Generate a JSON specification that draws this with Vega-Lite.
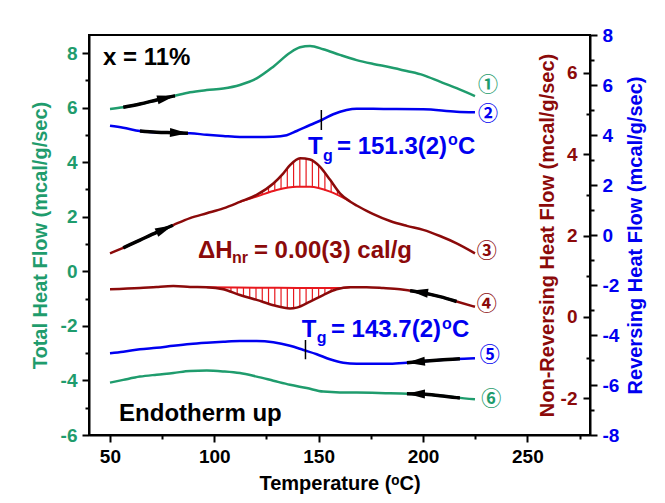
{
  "$schema": "https://vega.github.io/schema/vega-lite/v6.json",
  "width": 501,
  "height": 400,
  "autosize": "none",
  "padding": {"left": 89, "top": 35, "right": 75, "bottom": 68},
  "background": "white",
  "config": {
    "view": {"stroke": "black", "strokeWidth": 2},
    "font": "Liberation Sans"
  },
  "datasets": {
    "tot": [
      {"c": 1, "T": 50.06, "v": 5.95}, {"c": 1, "T": 56.4, "v": 6.01}, {"c": 1, "T": 64.4, "v": 6.13}, {"c": 1, "T": 72.4, "v": 6.28},
      {"c": 1, "T": 80.4, "v": 6.42}, {"c": 1, "T": 88.4, "v": 6.56}, {"c": 1, "T": 96.4, "v": 6.64}, {"c": 1, "T": 104.3, "v": 6.70},
      {"c": 1, "T": 112.3, "v": 6.83}, {"c": 1, "T": 120.3, "v": 7.07}, {"c": 1, "T": 128.3, "v": 7.50}, {"c": 1, "T": 136.3, "v": 8.01},
      {"c": 1, "T": 141.1, "v": 8.21}, {"c": 1, "T": 145.9, "v": 8.26}, {"c": 1, "T": 152.2, "v": 8.14}, {"c": 1, "T": 160.2, "v": 7.93},
      {"c": 1, "T": 168.2, "v": 7.74}, {"c": 1, "T": 176.2, "v": 7.60}, {"c": 1, "T": 184.2, "v": 7.48}, {"c": 1, "T": 192.2, "v": 7.34},
      {"c": 1, "T": 200.1, "v": 7.19}, {"c": 1, "T": 208.1, "v": 6.95}, {"c": 1, "T": 216.1, "v": 6.71}, {"c": 1, "T": 224.9, "v": 6.42},
      {"c": 6, "T": 50.06, "v": -4.08}, {"c": 6, "T": 56.4, "v": -3.98}, {"c": 6, "T": 64.4, "v": -3.86}, {"c": 6, "T": 72.4, "v": -3.79},
      {"c": 6, "T": 80.4, "v": -3.73}, {"c": 6, "T": 88.4, "v": -3.65}, {"c": 6, "T": 96.4, "v": -3.64}, {"c": 6, "T": 104.3, "v": -3.67},
      {"c": 6, "T": 112.3, "v": -3.73}, {"c": 6, "T": 120.3, "v": -3.86}, {"c": 6, "T": 128.3, "v": -4.01}, {"c": 6, "T": 136.3, "v": -4.16},
      {"c": 6, "T": 144.3, "v": -4.28}, {"c": 6, "T": 152.2, "v": -4.41}, {"c": 6, "T": 160.2, "v": -4.44}, {"c": 6, "T": 168.2, "v": -4.44},
      {"c": 6, "T": 184.2, "v": -4.47}, {"c": 6, "T": 200.1, "v": -4.50}, {"c": 6, "T": 208.1, "v": -4.56}, {"c": 6, "T": 216.1, "v": -4.63},
      {"c": 6, "T": 224.9, "v": -4.69}
    ],
    "rev": [
      {"c": 2, "T": 50.06, "v": 4.37}, {"c": 2, "T": 56.4, "v": 4.29}, {"c": 2, "T": 64.4, "v": 4.16}, {"c": 2, "T": 72.4, "v": 4.11},
      {"c": 2, "T": 80.4, "v": 4.09}, {"c": 2, "T": 88.4, "v": 4.07}, {"c": 2, "T": 96.4, "v": 4.01}, {"c": 2, "T": 104.3, "v": 3.96},
      {"c": 2, "T": 112.3, "v": 3.92}, {"c": 2, "T": 120.3, "v": 3.92}, {"c": 2, "T": 128.3, "v": 3.93}, {"c": 2, "T": 134.7, "v": 3.99},
      {"c": 2, "T": 139.5, "v": 4.16}, {"c": 2, "T": 145.9, "v": 4.40}, {"c": 2, "T": 151.5, "v": 4.60}, {"c": 2, "T": 157.0, "v": 4.83},
      {"c": 2, "T": 163.4, "v": 5.00}, {"c": 2, "T": 168.2, "v": 5.05}, {"c": 2, "T": 176.2, "v": 5.05}, {"c": 2, "T": 184.2, "v": 5.04},
      {"c": 2, "T": 200.1, "v": 5.03}, {"c": 2, "T": 216.1, "v": 4.93}, {"c": 2, "T": 224.9, "v": 4.91},
      {"c": 5, "T": 50.06, "v": -4.73}, {"c": 5, "T": 56.4, "v": -4.67}, {"c": 5, "T": 64.4, "v": -4.57}, {"c": 5, "T": 72.4, "v": -4.51},
      {"c": 5, "T": 80.4, "v": -4.43}, {"c": 5, "T": 88.4, "v": -4.36}, {"c": 5, "T": 96.4, "v": -4.31}, {"c": 5, "T": 104.3, "v": -4.27},
      {"c": 5, "T": 112.3, "v": -4.24}, {"c": 5, "T": 120.3, "v": -4.24}, {"c": 5, "T": 128.3, "v": -4.29}, {"c": 5, "T": 136.3, "v": -4.43},
      {"c": 5, "T": 142.7, "v": -4.60}, {"c": 5, "T": 149.1, "v": -4.77}, {"c": 5, "T": 155.4, "v": -4.97}, {"c": 5, "T": 161.8, "v": -5.11},
      {"c": 5, "T": 168.2, "v": -5.15}, {"c": 5, "T": 176.2, "v": -5.15}, {"c": 5, "T": 184.2, "v": -5.15}, {"c": 5, "T": 192.2, "v": -5.11},
      {"c": 5, "T": 200.1, "v": -5.05}, {"c": 5, "T": 208.1, "v": -5.00}, {"c": 5, "T": 216.1, "v": -4.96}, {"c": 5, "T": 224.9, "v": -4.93}
    ],
    "nr": [
      {"c": 3, "T": 50.06, "v": 1.565}, {"c": 3, "T": 56.4, "v": 1.70}, {"c": 3, "T": 64.4, "v": 1.89}, {"c": 3, "T": 72.4, "v": 2.08},
      {"c": 3, "T": 80.4, "v": 2.26}, {"c": 3, "T": 88.4, "v": 2.43}, {"c": 3, "T": 96.4, "v": 2.55}, {"c": 3, "T": 104.3, "v": 2.67},
      {"c": 3, "T": 112.3, "v": 2.83}, {"c": 3, "T": 120.3, "v": 3.0}, {"c": 3, "T": 128.3, "v": 3.28}, {"c": 3, "T": 133.1, "v": 3.53},
      {"c": 3, "T": 136.3, "v": 3.73}, {"c": 3, "T": 141.1, "v": 3.90}, {"c": 3, "T": 145.9, "v": 3.87}, {"c": 3, "T": 150.7, "v": 3.69},
      {"c": 3, "T": 155.5, "v": 3.37}, {"c": 3, "T": 160.2, "v": 3.04}, {"c": 3, "T": 165.0, "v": 2.84}, {"c": 3, "T": 168.2, "v": 2.74},
      {"c": 3, "T": 173.0, "v": 2.61}, {"c": 3, "T": 176.2, "v": 2.53}, {"c": 3, "T": 184.2, "v": 2.36}, {"c": 3, "T": 192.2, "v": 2.24},
      {"c": 3, "T": 200.1, "v": 2.14}, {"c": 3, "T": 208.1, "v": 1.99}, {"c": 3, "T": 216.1, "v": 1.81}, {"c": 3, "T": 224.9, "v": 1.565},
      {"c": 4, "T": 50.06, "v": 0.68}, {"c": 4, "T": 64.4, "v": 0.71}, {"c": 4, "T": 72.4, "v": 0.74}, {"c": 4, "T": 80.4, "v": 0.76},
      {"c": 4, "T": 88.4, "v": 0.74}, {"c": 4, "T": 96.4, "v": 0.73}, {"c": 4, "T": 104.3, "v": 0.68}, {"c": 4, "T": 112.3, "v": 0.54},
      {"c": 4, "T": 120.3, "v": 0.42}, {"c": 4, "T": 128.3, "v": 0.29}, {"c": 4, "T": 136.3, "v": 0.21}, {"c": 4, "T": 139.5, "v": 0.23},
      {"c": 4, "T": 145.9, "v": 0.38}, {"c": 4, "T": 152.2, "v": 0.54}, {"c": 4, "T": 158.6, "v": 0.68}, {"c": 4, "T": 165.0, "v": 0.73},
      {"c": 4, "T": 173.0, "v": 0.73}, {"c": 4, "T": 181.0, "v": 0.71}, {"c": 4, "T": 189.0, "v": 0.68}, {"c": 4, "T": 197.0, "v": 0.62},
      {"c": 4, "T": 208.1, "v": 0.50}, {"c": 4, "T": 216.1, "v": 0.38}, {"c": 4, "T": 224.9, "v": 0.25}
    ],
    "nrbase": [
      {"c": 3, "T": 112.3, "v": 2.83}, {"c": 3, "T": 120.3, "v": 2.96}, {"c": 3, "T": 129.9, "v": 3.12}, {"c": 3, "T": 139.5, "v": 3.20},
      {"c": 3, "T": 145.9, "v": 3.20}, {"c": 3, "T": 155.5, "v": 3.08}, {"c": 3, "T": 165.0, "v": 2.84},
      {"c": 4, "T": 96.4, "v": 0.73}, {"c": 4, "T": 120.0, "v": 0.72}, {"c": 4, "T": 140.0, "v": 0.715}, {"c": 4, "T": 160.0, "v": 0.71},
      {"c": 4, "T": 165.0, "v": 0.73}
    ],
    "hatch": [
      {"c": 3, "T": 120, "v": 2.99, "vb": 2.96}, {"c": 3, "T": 123, "v": 3.09, "vb": 3.01}, {"c": 3, "T": 126, "v": 3.19, "vb": 3.06},
      {"c": 3, "T": 129, "v": 3.31, "vb": 3.11}, {"c": 3, "T": 132, "v": 3.47, "vb": 3.14}, {"c": 3, "T": 135, "v": 3.65, "vb": 3.17},
      {"c": 3, "T": 138, "v": 3.80, "vb": 3.19}, {"c": 3, "T": 141, "v": 3.90, "vb": 3.20}, {"c": 3, "T": 144, "v": 3.89, "vb": 3.20},
      {"c": 3, "T": 147, "v": 3.83, "vb": 3.19}, {"c": 3, "T": 150, "v": 3.72, "vb": 3.15}, {"c": 3, "T": 153, "v": 3.54, "vb": 3.11},
      {"c": 3, "T": 156, "v": 3.34, "vb": 3.07}, {"c": 3, "T": 159, "v": 3.12, "vb": 3.01}, {"c": 3, "T": 162, "v": 2.96, "vb": 2.92},
      {"c": 4, "T": 105, "v": 0.668, "vb": 0.725}, {"c": 4, "T": 108, "v": 0.615, "vb": 0.724}, {"c": 4, "T": 111, "v": 0.56, "vb": 0.723},
      {"c": 4, "T": 114, "v": 0.515, "vb": 0.722}, {"c": 4, "T": 117, "v": 0.47, "vb": 0.721}, {"c": 4, "T": 120, "v": 0.425, "vb": 0.72},
      {"c": 4, "T": 123, "v": 0.376, "vb": 0.719}, {"c": 4, "T": 126, "v": 0.33, "vb": 0.718}, {"c": 4, "T": 129, "v": 0.283, "vb": 0.717},
      {"c": 4, "T": 132, "v": 0.253, "vb": 0.716}, {"c": 4, "T": 135, "v": 0.223, "vb": 0.716}, {"c": 4, "T": 138, "v": 0.22, "vb": 0.715},
      {"c": 4, "T": 141, "v": 0.27, "vb": 0.714}, {"c": 4, "T": 144, "v": 0.335, "vb": 0.713}, {"c": 4, "T": 147, "v": 0.41, "vb": 0.712},
      {"c": 4, "T": 150, "v": 0.484, "vb": 0.712}, {"c": 4, "T": 153, "v": 0.557, "vb": 0.711}, {"c": 4, "T": 156, "v": 0.623, "vb": 0.71},
      {"c": 4, "T": 159, "v": 0.683, "vb": 0.71}
    ],
    "shaft": [
      {"c": 1, "T": 56.4, "v": 6.01}, {"c": 1, "T": 64.4, "v": 6.13}, {"c": 1, "T": 72.4, "v": 6.28}, {"c": 1, "T": 80.4, "v": 6.42}, {"c": 1, "T": 81.2, "v": 6.43},
      {"c": 2, "T": 64.4, "v": 4.16}, {"c": 2, "T": 72.4, "v": 4.11}, {"c": 2, "T": 80.4, "v": 4.09}, {"c": 2, "T": 87.4, "v": 4.07},
      {"c": 3, "T": 56.4, "v": 1.70}, {"c": 3, "T": 64.4, "v": 1.89}, {"c": 3, "T": 72.4, "v": 2.08}, {"c": 3, "T": 80.2, "v": 2.255},
      {"c": 4, "T": 193.8, "v": 0.644}, {"c": 4, "T": 197.0, "v": 0.62}, {"c": 4, "T": 208.1, "v": 0.50}, {"c": 4, "T": 216.1, "v": 0.38},
      {"c": 5, "T": 192.3, "v": -5.11}, {"c": 5, "T": 200.1, "v": -5.05}, {"c": 5, "T": 208.1, "v": -5.00}, {"c": 5, "T": 216.1, "v": -4.96}, {"c": 5, "T": 217.7, "v": -4.95},
      {"c": 6, "T": 192.3, "v": -4.485}, {"c": 6, "T": 200.1, "v": -4.50}, {"c": 6, "T": 208.1, "v": -4.56}, {"c": 6, "T": 216.1, "v": -4.63}, {"c": 6, "T": 217.7, "v": -4.64}
    ],
    "head": [
      {"c": 1, "T": 81.2, "v": 6.43}, {"c": 2, "T": 87.4, "v": 4.07}, {"c": 3, "T": 80.2, "v": 2.255},
      {"c": 4, "T": 193.8, "v": 0.644}, {"c": 5, "T": 192.3, "v": -5.11}, {"c": 6, "T": 192.3, "v": -4.485}
    ],
    "num": [
      {"c": 1, "T": 231.1, "v": 6.80, "label": "①"}, {"c": 6, "T": 232.7, "v": -4.71, "label": "⑥"},
      {"c": 2, "T": 231.1, "v": 4.82, "label": "②"}, {"c": 5, "T": 232.0, "v": -4.84, "label": "⑤"},
      {"c": 3, "T": 230.5, "v": 1.60, "label": "③"}, {"c": 4, "T": 230.5, "v": 0.29, "label": "④"}
    ]
  },
  "resolve": {"scale": {"y": "independent"}},
  "layer": [
    {
      "data": {"name": "tot"},
      "encoding": {
        "x": {"field": "T", "type": "quantitative", "scale": {"domain": [40, 280], "nice": false, "zero": false},
          "axis": {"values": [50, 75, 100, 125, 150, 175, 200, 225, 250, 275],
            "labelExpr": "datum.value % 50 === 0 ? '' + datum.value : ''",
            "tickSize": {"condition": {"test": "datum.value % 50 !== 0", "value": 4}, "value": 7},
            "labelOverlap": false, "labelFlush": false,
            "title": "Temperature (ᵒC)", "labelFont": "Liberation Sans", "labelFontSize": 19, "labelFontWeight": "bold", "labelColor": "black", "labelPadding": 5,
            "titleFont": "Liberation Sans", "titleFontSize": 20, "titleFontWeight": "bold", "titleColor": "black", "titlePadding": 7,
            "domainColor": "black", "domainWidth": 2, "tickColor": "black", "tickWidth": 2, "grid": false}},
        "y": {"field": "v", "type": "quantitative", "scale": {"domain": [-6, 8.66], "nice": false, "zero": false},
          "axis": {"orient": "left", "values": [-6, -5, -4, -3, -2, -1, 0, 1, 2, 3, 4, 5, 6, 7, 8],
            "labelExpr": "datum.value % 2 === 0 ? '' + datum.value : ''",
            "tickSize": {"condition": {"test": "datum.value % 2 !== 0", "value": 4}, "value": 7},
            "labelOverlap": false, "labelFlush": false,
            "title": "Total Heat Flow (mcal/g/sec)", "labelFont": "Liberation Sans", "labelFontSize": 19, "labelFontWeight": "bold", "labelColor": "#1f9c6d", "labelPadding": 5,
            "titleFont": "Liberation Sans", "titleFontSize": 20, "titleFontWeight": "bold", "titleColor": "#1f9c6d", "titlePadding": 10,
            "domainColor": "black", "domainWidth": 2, "tickColor": "black", "tickWidth": 2, "grid": false}}
      },
      "layer": [
        {"mark": {"type": "line", "color": "#1f9c6d", "strokeWidth": 2.5, "interpolate": "monotone"},
         "encoding": {"detail": {"field": "c"}}},
        {"data": {"name": "shaft"}, "transform": [{"filter": "datum.c === 1 || datum.c === 6"}],
         "mark": {"type": "line", "color": "black", "strokeWidth": 3.5, "interpolate": "monotone"},
         "encoding": {"detail": {"field": "c"}}},
        {"data": {"name": "head"}, "transform": [{"filter": "datum.c === 1"}],
         "mark": {"type": "point", "shape": "M0,0L-2,-0.5L-2,0.5Z", "size": 324, "filled": true, "color": "black", "opacity": 1, "angle": 347}},
        {"data": {"name": "head"}, "transform": [{"filter": "datum.c === 6"}],
         "mark": {"type": "point", "shape": "M0,0L-2,-0.5L-2,0.5Z", "size": 324, "filled": true, "color": "black", "opacity": 1, "angle": 181}},
        {"data": {"name": "num"}, "transform": [{"filter": "datum.c === 1 || datum.c === 6"}],
         "mark": {"type": "text", "font": "Noto Sans CJK SC", "fontSize": 20, "fontWeight": "bold", "color": "#1f9c6d", "align": "center", "baseline": "middle"},
         "encoding": {"text": {"field": "label"}}},
        {"data": {"values": [{"T": 46.7, "v": 7.56, "text": "x = 11%"}, {"T": 54.4, "v": -5.47, "text": "Endotherm up"}]},
         "mark": {"type": "text", "font": "Liberation Sans", "fontSize": 24, "fontWeight": "bold", "color": "black", "align": "left", "baseline": "alphabetic"},
         "encoding": {"text": {"field": "text"}}}
      ]
    },
    {
      "data": {"name": "rev"},
      "encoding": {
        "x": {"field": "T", "type": "quantitative", "scale": {"domain": [40, 280], "nice": false, "zero": false},
          "axis": {"values": [50, 75, 100, 125, 150, 175, 200, 225, 250, 275],
            "labelExpr": "datum.value % 50 === 0 ? '' + datum.value : ''",
            "tickSize": {"condition": {"test": "datum.value % 50 !== 0", "value": 4}, "value": 7},
            "labelOverlap": false, "labelFlush": false,
            "title": "Temperature (ᵒC)", "labelFont": "Liberation Sans", "labelFontSize": 19, "labelFontWeight": "bold", "labelColor": "black", "labelPadding": 5,
            "titleFont": "Liberation Sans", "titleFontSize": 20, "titleFontWeight": "bold", "titleColor": "black", "titlePadding": 7,
            "domainColor": "black", "domainWidth": 2, "tickColor": "black", "tickWidth": 2, "grid": false}},
        "y": {"field": "v", "type": "quantitative", "scale": {"domain": [-8, 8], "nice": false, "zero": false},
          "axis": {"orient": "right", "values": [-8, -7, -6, -5, -4, -3, -2, -1, 0, 1, 2, 3, 4, 5, 6, 7, 8],
            "labelExpr": "datum.value % 2 === 0 ? '' + datum.value : ''",
            "tickSize": {"condition": {"test": "datum.value % 2 !== 0", "value": 4}, "value": 7},
            "labelOverlap": false, "labelFlush": false,
            "title": "Reversing Heat Flow (mcal/g/sec)", "titleAngle": 270, "labelFont": "Liberation Sans", "labelFontSize": 19, "labelFontWeight": "bold", "labelColor": "#0000f0", "labelPadding": 5,
            "titleFont": "Liberation Sans", "titleFontSize": 20, "titleFontWeight": "bold", "titleColor": "#0000f0", "titlePadding": 27,
            "domainColor": "black", "domainWidth": 2, "tickColor": "black", "tickWidth": 2, "grid": false}}
      },
      "layer": [
        {"mark": {"type": "line", "color": "#0000f0", "strokeWidth": 2.5, "interpolate": "monotone"},
         "encoding": {"detail": {"field": "c"}}},
        {"data": {"name": "shaft"}, "transform": [{"filter": "datum.c === 2 || datum.c === 5"}],
         "mark": {"type": "line", "color": "black", "strokeWidth": 3.5, "interpolate": "monotone"},
         "encoding": {"detail": {"field": "c"}}},
        {"data": {"name": "head"}, "transform": [{"filter": "datum.c === 2"}],
         "mark": {"type": "point", "shape": "M0,0L-2,-0.5L-2,0.5Z", "size": 324, "filled": true, "color": "black", "opacity": 1, "angle": 2}},
        {"data": {"name": "head"}, "transform": [{"filter": "datum.c === 5"}],
         "mark": {"type": "point", "shape": "M0,0L-2,-0.5L-2,0.5Z", "size": 324, "filled": true, "color": "black", "opacity": 1, "angle": 175}},
        {"data": {"values": [{"T": 151.3, "v": 4.2, "v2": 5.0}, {"T": 143.7, "v": -4.2, "v2": -4.97}]},
         "mark": {"type": "rule", "color": "black", "strokeWidth": 1.5},
         "encoding": {"y2": {"field": "v2"}}},
        {"data": {"name": "num"}, "transform": [{"filter": "datum.c === 2 || datum.c === 5"}],
         "mark": {"type": "text", "font": "Noto Sans CJK SC", "fontSize": 20, "fontWeight": "bold", "color": "#0000f0", "align": "center", "baseline": "middle"},
         "encoding": {"text": {"field": "label"}}},
        {"data": {"values": [
            {"T": 144.9, "v": 3.24, "text": "T"}, {"T": 158.8, "v": 3.24, "text": "= 151.3(2)"}, {"T": 216.8, "v": 3.24, "text": "C"},
            {"T": 141.9, "v": -4.07, "text": "T"}, {"T": 155.9, "v": -4.07, "text": "= 143.7(2)"}, {"T": 213.9, "v": -4.07, "text": "C"}]},
         "mark": {"type": "text", "font": "Liberation Sans", "fontSize": 24, "fontWeight": "bold", "color": "#0000f0", "align": "left", "baseline": "alphabetic"},
         "encoding": {"text": {"field": "text"}}},
        {"data": {"values": [
            {"T": 152.1, "v": 2.96, "text": "g"}, {"T": 212.0, "v": 3.6, "text": "o"},
            {"T": 149.1, "v": -4.32, "text": "g"}, {"T": 209.1, "v": -3.76, "text": "o"}]},
         "mark": {"type": "text", "font": "Liberation Sans", "fontSize": 16, "fontWeight": "bold", "color": "#0000f0", "align": "left", "baseline": "alphabetic"},
         "encoding": {"text": {"field": "text"}}}
      ]
    },
    {
      "data": {"name": "nr"},
      "encoding": {
        "x": {"field": "T", "type": "quantitative", "scale": {"domain": [40, 280], "nice": false, "zero": false},
          "axis": {"values": [50, 75, 100, 125, 150, 175, 200, 225, 250, 275],
            "labelExpr": "datum.value % 50 === 0 ? '' + datum.value : ''",
            "tickSize": {"condition": {"test": "datum.value % 50 !== 0", "value": 4}, "value": 7},
            "labelOverlap": false, "labelFlush": false,
            "title": "Temperature (ᵒC)", "labelFont": "Liberation Sans", "labelFontSize": 19, "labelFontWeight": "bold", "labelColor": "black", "labelPadding": 5,
            "titleFont": "Liberation Sans", "titleFontSize": 20, "titleFontWeight": "bold", "titleColor": "black", "titlePadding": 7,
            "domainColor": "black", "domainWidth": 2, "tickColor": "black", "tickWidth": 2, "grid": false}},
        "y": {"field": "v", "type": "quantitative", "scale": {"domain": [-2.9, 6.93], "nice": false, "zero": false},
          "axis": {"orient": "left", "offset": -501, "values": [-2, -1, 0, 1, 2, 3, 4, 5, 6],
            "labelExpr": "datum.value % 2 === 0 ? '' + datum.value : ''",
            "tickSize": {"condition": {"test": "datum.value % 2 !== 0", "value": 4}, "value": 7},
            "labelOverlap": false, "labelFlush": false,
            "title": "Non-Reversing Heat Flow (mcal/g/sec)", "labelFont": "Liberation Sans", "labelFontSize": 19, "labelFontWeight": "bold", "labelColor": "#8b0a0a", "labelPadding": 6,
            "titleFont": "Liberation Sans", "titleFontSize": 20, "titleFontWeight": "bold", "titleColor": "#8b0a0a", "titlePadding": 3,
            "domain": false, "tickColor": "black", "tickWidth": 2, "grid": false}}
      },
      "layer": [
        {"data": {"name": "hatch"},
         "mark": {"type": "rule", "color": "#e8181e", "strokeWidth": 1.2},
         "encoding": {"y2": {"field": "vb"}}},
        {"data": {"name": "nrbase"},
         "mark": {"type": "line", "color": "#e8181e", "strokeWidth": 2, "interpolate": "monotone"},
         "encoding": {"detail": {"field": "c"}}},
        {"mark": {"type": "line", "color": "#8b0a0a", "strokeWidth": 2.5, "interpolate": "monotone"},
         "encoding": {"detail": {"field": "c"}}},
        {"data": {"name": "shaft"}, "transform": [{"filter": "datum.c === 3 || datum.c === 4"}],
         "mark": {"type": "line", "color": "black", "strokeWidth": 3.5, "interpolate": "monotone"},
         "encoding": {"detail": {"field": "c"}}},
        {"data": {"name": "head"}, "transform": [{"filter": "datum.c === 3"}],
         "mark": {"type": "point", "shape": "M0,0L-2,-0.5L-2,0.5Z", "size": 324, "filled": true, "color": "black", "opacity": 1, "angle": 336}},
        {"data": {"name": "head"}, "transform": [{"filter": "datum.c === 4"}],
         "mark": {"type": "point", "shape": "M0,0L-2,-0.5L-2,0.5Z", "size": 324, "filled": true, "color": "black", "opacity": 1, "angle": 188}},
        {"data": {"name": "num"}, "transform": [{"filter": "datum.c === 3 || datum.c === 4"}],
         "mark": {"type": "text", "font": "Noto Sans CJK SC", "fontSize": 20, "fontWeight": "bold", "color": "#8b0a0a", "align": "center", "baseline": "middle"},
         "encoding": {"text": {"field": "label"}}},
        {"data": {"values": [{"T": 92.2, "v": 1.44, "text": "ΔH"}, {"T": 119.0, "v": 1.44, "text": "= 0.00(3) cal/g"}]},
         "mark": {"type": "text", "font": "Liberation Sans", "fontSize": 24, "fontWeight": "bold", "color": "#8b0a0a", "align": "left", "baseline": "alphabetic"},
         "encoding": {"text": {"field": "text"}}},
        {"data": {"values": [{"T": 108.5, "v": 1.32, "text": "nr"}]},
         "mark": {"type": "text", "font": "Liberation Sans", "fontSize": 16, "fontWeight": "bold", "color": "#8b0a0a", "align": "left", "baseline": "alphabetic"},
         "encoding": {"text": {"field": "text"}}}
      ]
    }
  ]
}
